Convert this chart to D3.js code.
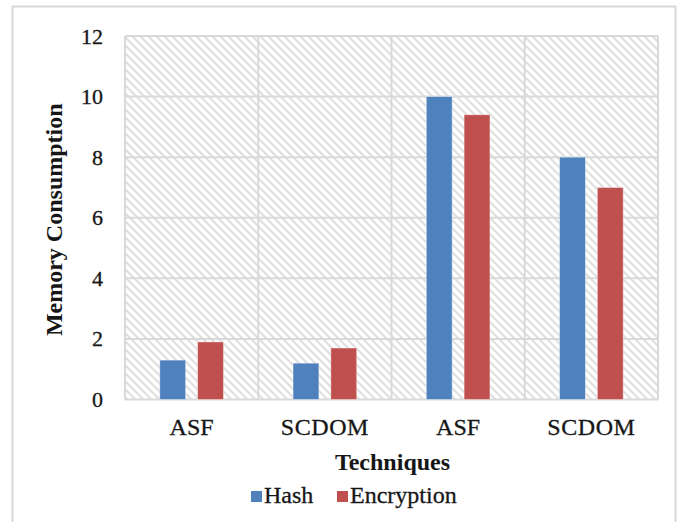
<!DOCTYPE html>
<html>
<head>
<meta charset="utf-8">
<script src="https://cdn.jsdelivr.net/npm/d3@7"></script>
<style>
  html, body { margin: 0; padding: 0; background: #fff; }
  svg { display: block; }
</style>
</head>
<body>
<svg id="chart" width="678" height="522"></svg>
<script>
// Memory consumption per technique, for hashing and encryption
const categories = ["ASF", "SCDOM", "ASF", "SCDOM"];
const seriesNames = ["Hash", "Encryption"];
const hashValues = [1.3, 1.2, 10.0, 8.0];
const encryptionValues = [1.9, 1.7, 9.4, 7.0];
const yTicks = [0, 2, 4, 6, 8, 10, 12];
const colors = { Hash: "#4f81bd", Encryption: "#c0504d" };

const FONT = "'Liberation Serif', 'Times New Roman', serif";
const INK = "#161616";

const svg = d3.select("#chart");
const plot = { left: 125, right: 658, top: 36, bottom: 399.5 };

// Outer chart frame (open at the bottom edge of the window)
svg.append("rect")
  .attr("x", 12.5).attr("y", 6.5)
  .attr("width", 663).attr("height", 540)
  .attr("fill", "#fff")
  .attr("stroke", "#d9d9d9").attr("stroke-width", 2);

// Diagonal hatch fill for the plot area
const defs = svg.append("defs");
const pat = defs.append("pattern")
  .attr("id", "hatch")
  .attr("patternUnits", "userSpaceOnUse")
  .attr("width", 8).attr("height", 8);
pat.append("rect").attr("width", 8).attr("height", 8).attr("fill", "#fff");
pat.append("path")
  .attr("d", "M-2,-2 L10,10 M-2,6 L2,10 M6,-2 L10,2")
  .attr("stroke", "#dedede")
  .attr("stroke-width", 2);

const x0 = d3.scaleBand()
  .domain(d3.range(categories.length))
  .range([plot.left, plot.right])
  .paddingInner(0).paddingOuter(0);

const x1 = d3.scaleBand()
  .domain(seriesNames)
  .range([0, x0.bandwidth()])
  .paddingInner(0.316).paddingOuter(0.921);

const y = d3.scaleLinear()
  .domain([0, 12])
  .range([plot.bottom, plot.top]);

svg.append("rect")
  .attr("x", plot.left).attr("y", plot.top)
  .attr("width", plot.right - plot.left)
  .attr("height", plot.bottom - plot.top)
  .attr("fill", "url(#hatch)");

// Horizontal gridlines
svg.append("g")
  .selectAll("line")
  .data(yTicks)
  .join("line")
  .attr("x1", plot.left).attr("x2", plot.right)
  .attr("y1", d => y(d)).attr("y2", d => y(d))
  .attr("stroke", "#d9d9d9").attr("stroke-width", 2);

// Vertical separators between categories
const bounds = d3.range(categories.length + 1).map(i =>
  i < categories.length ? x0(i) : x0(i - 1) + x0.bandwidth());
svg.append("g")
  .selectAll("line")
  .data(bounds)
  .join("line")
  .attr("x1", d => d).attr("x2", d => d)
  .attr("y1", plot.top).attr("y2", plot.bottom)
  .attr("stroke", "#d9d9d9").attr("stroke-width", 2);

// Bars
const rows = categories.map((c, i) => ({
  i,
  values: [
    { key: "Hash", value: hashValues[i] },
    { key: "Encryption", value: encryptionValues[i] }
  ]
}));

svg.append("g")
  .selectAll("g")
  .data(rows)
  .join("g")
  .attr("transform", d => `translate(${x0(d.i)},0)`)
  .selectAll("rect")
  .data(d => d.values)
  .join("rect")
  .attr("x", d => x1(d.key))
  .attr("width", x1.bandwidth())
  .attr("y", d => y(d.value))
  .attr("height", d => y(0) - y(d.value))
  .attr("fill", d => colors[d.key])
  .attr("stroke", "rgba(255,255,255,0.5)")
  .attr("stroke-width", 0.8);

// Shared text styling (slightly heavy regular weight)
function styleText(sel, size, bold) {
  sel.style("font-family", FONT)
    .style("font-size", size + "px")
    .style("font-weight", bold ? "bold" : "normal")
    .style("fill", INK)
    .style("stroke", bold ? "none" : INK)
    .style("stroke-width", bold ? 0 : 0.3);
}

// Y axis labels
const yAxis = svg.append("g")
  .attr("transform", `translate(${plot.left},0)`)
  .call(d3.axisLeft(y).tickValues(yTicks).tickSize(0).tickPadding(22).tickFormat(d3.format("d")));
yAxis.attr("font-family", null).attr("font-size", null);
yAxis.select(".domain").remove();
yAxis.selectAll("text").call(styleText, 22, false);

// X axis labels
const xAxis = svg.append("g")
  .attr("transform", `translate(0,${plot.bottom})`)
  .call(d3.axisBottom(x0).tickSize(0).tickFormat(i => categories[i]));
xAxis.attr("font-family", null).attr("font-size", null);
xAxis.select(".domain").remove();
xAxis.selectAll("text")
  .call(styleText, 24, false)
  .attr("y", 35).attr("dy", 0)
  .attr("letter-spacing", d => categories[d] === "SCDOM" ? 0.6 : 0);

// Axis titles
svg.append("text")
  .attr("transform", `translate(62,${(plot.top + plot.bottom) / 2 + 2}) rotate(-90)`)
  .attr("text-anchor", "middle")
  .call(styleText, 24, true)
  .text("Memory Consumption");

svg.append("text")
  .attr("x", (plot.left + plot.right) / 2 + 1)
  .attr("y", 470)
  .attr("text-anchor", "middle")
  .call(styleText, 24, true)
  .text("Techniques");

// Legend
const legendItems = [
  { key: "Hash", x: 251 },
  { key: "Encryption", x: 337 }
];
const lg = svg.append("g")
  .selectAll("g")
  .data(legendItems)
  .join("g")
  .attr("transform", d => `translate(${d.x},491)`);
lg.append("rect")
  .attr("width", 11).attr("height", 11)
  .attr("fill", d => colors[d.key]);
lg.append("text")
  .attr("x", 13).attr("y", 12)
  .call(styleText, 24, false)
  .text(d => d.key);
</script>
</body>
</html>
